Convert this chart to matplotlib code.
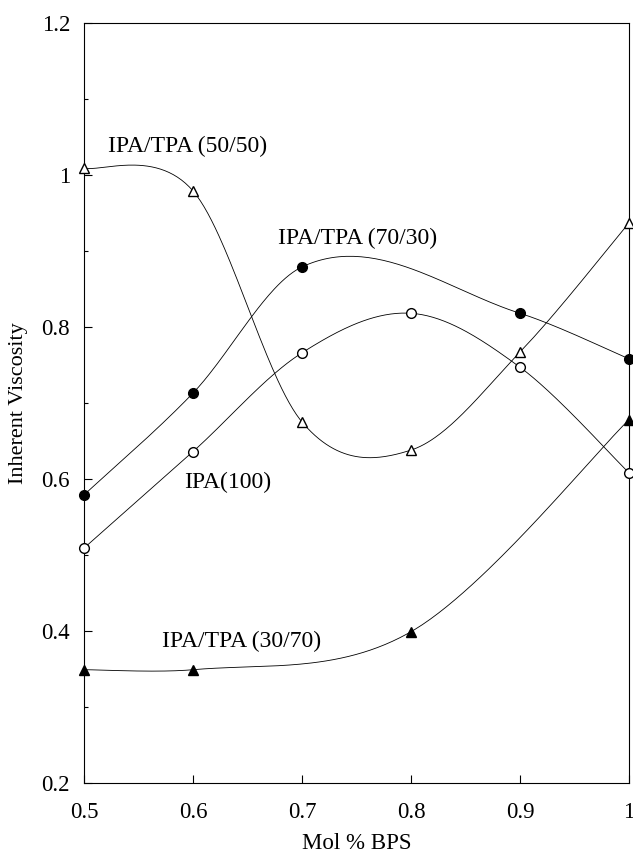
import numpy as np
import matplotlib
matplotlib.use("Agg")
from matplotlib import pyplot as plt
from matplotlib.ticker import MultipleLocator

# data
x_full = [0.5, 0.6, 0.7, 0.8, 0.9, 1.0]
visc_50_50 = [1.009, 0.979, 0.675, 0.638, 0.767, 0.937]
x_70_30 = [0.5, 0.6, 0.7, 0.9, 1.0]
visc_70_30 = [0.579, 0.713, 0.879, 0.818, 0.758]
visc_ipa100 = [0.509, 0.636, 0.766, 0.818, 0.747, 0.608]
x_30_70 = [0.5, 0.6, 0.8, 1.0]
visc_30_70 = [0.349, 0.349, 0.399, 0.678]

series_labels = ["IPA/TPA (50/50)", "IPA/TPA (70/30)", "IPA(100)", "IPA/TPA (30/70)"]

plt.rcParams["font.family"] = ["Liberation Serif", "DejaVu Serif"]


def smooth_curve(xs, ys, n=60):
    """Bezier smoothing through the points (spreadsheet-like smoothed line)."""
    p = np.column_stack([xs, ys]).astype(float)
    k = len(p)
    # tangent slopes at interior points
    slope = np.zeros(k)
    for i in range(1, k - 1):
        hl = p[i, 0] - p[i - 1, 0]
        hr = p[i + 1, 0] - p[i, 0]
        dl = (p[i, 1] - p[i - 1, 1]) / hl
        dr = (p[i + 1, 1] - p[i, 1]) / hr
        centered = (p[i + 1, 1] - p[i - 1, 1]) / (hl + hr)
        parab = (hr * dl + hl * dr) / (hl + hr)
        slope[i] = 0.5 * (centered + parab)
    t = np.linspace(0, 1, n)[:, None]
    out = []
    for i in range(k - 1):
        p1, p2 = p[i], p[i + 1]
        h = p2[0] - p1[0]
        if i == 0:
            c1 = p1 + (p2 - p1) / 6.0
        else:
            c1 = p1 + np.array([h / 3, slope[i] * h / 3])
        if i + 1 == k - 1:
            c2 = p2 - (p2 - p1) / 6.0
        else:
            c2 = p2 - np.array([h / 3, slope[i + 1] * h / 3])
        seg = ((1 - t) ** 3) * p1 + 3 * ((1 - t) ** 2) * t * c1 + 3 * (1 - t) * t ** 2 * c2 + t ** 3 * p2
        out.append(seg if i == 0 else seg[1:])
    out = np.vstack(out)
    return out[:, 0], out[:, 1]


fig = plt.figure(figsize=(6.33, 8.57), dpi=100)
ax = fig.add_axes([0.1327, 0.0864, 0.8610, 0.8868])

lw = 0.6
series = [
    (x_full, visc_50_50, "^", "white"),
    (x_70_30, visc_70_30, "o", "black"),
    (x_full, visc_ipa100, "o", "white"),
    (x_30_70, visc_30_70, "^", "black"),
]
for xs, ys, mk, fc in series:
    sx, sy = smooth_curve(xs, ys)
    ax.plot(sx, sy, color="black", linewidth=lw, clip_on=False, zorder=2)
    ax.plot(xs, ys, linestyle="none", marker=mk, markersize=7.5 if mk == "^" else 7,
            markerfacecolor=fc, markeredgecolor="black", markeredgewidth=1.0,
            clip_on=False, zorder=3)

ax.set_xlim(0.5, 1.0)
ax.set_ylim(0.2, 1.2)
ax.yaxis.set_minor_locator(MultipleLocator(0.1))
ax.set_xticks([0.5, 0.6, 0.7, 0.8, 0.9, 1.0])
ax.set_xticklabels(["0.5", "0.6", "0.7", "0.8", "0.9", "1"])
ax.set_yticks([0.2, 0.4, 0.6, 0.8, 1.0, 1.2])
ax.set_yticklabels(["0.2", "0.4", "0.6", "0.8", "1", "1.2"])
ax.tick_params(which="major", direction="in", length=6, width=0.8, labelsize=16.5)
ax.tick_params(axis="x", which="major", pad=14)
ax.tick_params(axis="y", which="major", pad=10)
ax.tick_params(which="minor", direction="in", length=3, width=0.8)
for sp in ax.spines.values():
    sp.set_linewidth(0.8)

ax.set_xlabel("Mol % BPS", fontsize=16.5, labelpad=7)
ax.set_ylabel("Inherent Viscosity", fontsize=16, labelpad=10)

text_pos = [(0.522, 1.037), (0.678, 0.916), (0.592, 0.595), (0.572, 0.386)]
for lbl, (tx, ty) in zip(series_labels, text_pos):
    ax.text(tx, ty, lbl, fontsize=17, ha="left", va="center")

fig.savefig("out.png", dpi=100)
